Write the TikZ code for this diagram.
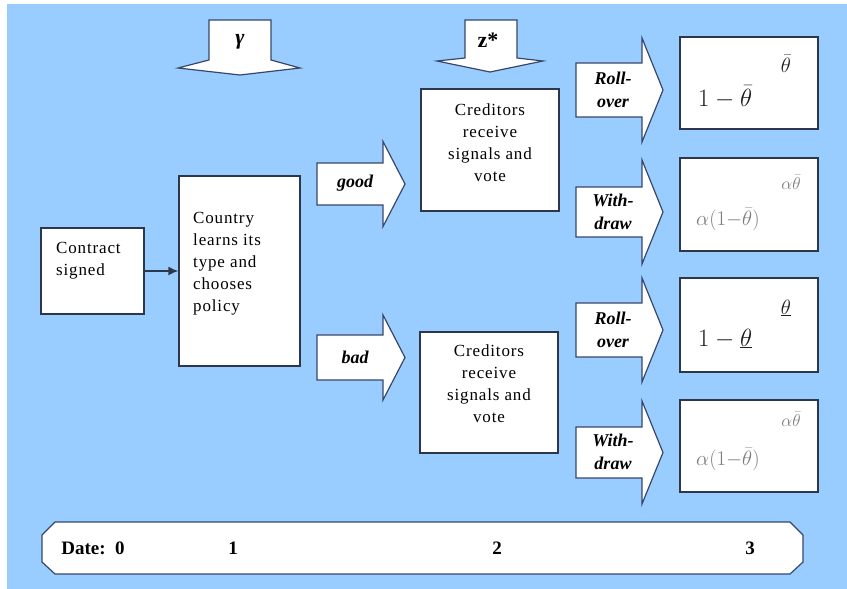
\documentclass[tikz,border=0pt]{standalone}
\usepackage[no-math]{fontspec}
\setmainfont{Liberation Serif}
\newfontfamily\boxfont[LetterSpace=5]{Liberation Serif}
\usetikzlibrary{arrows.meta}

\definecolor{skyback}{RGB}{153,204,255}
\definecolor{boxline}{RGB}{45,55,75}
\definecolor{arrline}{RGB}{55,70,105}
\definecolor{payoffdark}{RGB}{30,30,30}
\definecolor{payoffgray}{RGB}{125,125,125}

% right block arrow: tail x, centre y, shaft half, shaft end x, head half, tip x
\newcommand{\blockright}[6]{%
  \filldraw[blockarrow] (#1,#2-#3) -- (#4,#2-#3) -- (#4,#2-#5) -- (#6,#2)
    -- (#4,#2+#5) -- (#4,#2+#3) -- (#1,#2+#3) -- cycle;}

\begin{document}
\begin{tikzpicture}[x=1pt,y=-1pt]
    \tikzstyle{box}=[draw=boxline, fill=white, line width=1.3pt, inner sep=0pt]
    \tikzstyle{blockarrow}=[draw=arrline, fill=white, line width=1.2pt, line join=miter]
    \tikzstyle{txt}=[font=\boxfont\fontsize{17}{22}\selectfont, inner sep=0pt, align=center]
    \tikzstyle{lbl}=[font=\bfseries\itshape\fontsize{18}{23}\selectfont, inner sep=0pt, align=center]
    \tikzstyle{payoff}=[font=\fontsize{24}{28}\selectfont, text=payoffdark, inner sep=0pt]
    \tikzstyle{payoffsmall}=[font=\fontsize{20}{24}\selectfont, text=payoffdark, inner sep=0pt]
    \tikzstyle{date}=[font=\bfseries\fontsize{19}{22}\selectfont, inner sep=0pt]

    \useasboundingbox (0,0) rectangle (847,589);
    \fill[skyback] (7,4) rectangle (847,589);

    % top arrows
    \filldraw[blockarrow] (209,20) -- (271,20) -- (271,60) -- (300,68) -- (240,75)
        -- (178,68) -- (209,60) -- cycle;
    \node[lbl, font=\bfseries\itshape\fontsize{22}{24}\selectfont] (gamma) at (240,42) {γ};
    \filldraw[blockarrow] (465,20) -- (517,20) -- (517,58) -- (543,61) -- (490,72)
        -- (437,61) -- (465,58) -- cycle;
    \node[lbl, font=\bfseries\fontsize{22}{24}\selectfont] (zstar) at (488,40) {z*};

    % boxes
    \node[box, minimum width=103, minimum height=86] (contract) at (92.5,271) {};
    \node[txt, align=left, anchor=west] at (56,261) {Contract\\signed};
    \node[box, minimum width=121, minimum height=190] (country) at (239.5,271) {};
    \node[txt, align=left, anchor=west] at (193,264) {Country\\learns its\\type and\\chooses\\policy};
    \draw[line width=1.6pt, boxline, -{Latex[length=10pt,width=9pt]}] (contract.east) -- (country.west);

    \node[box, minimum width=138, minimum height=122] (credgood) at (490,150) {};
    \node[txt] at (490,143) {Creditors\\receive\\signals and\\vote};
    \node[box, minimum width=138, minimum height=121] (credbad) at (489,392.5) {};
    \node[txt] at (489,384) {Creditors\\receive\\signals and\\vote};

    % type arrows
    \blockright{317}{184}{21}{383}{42.5}{405}
    \node[lbl] (good) at (355,183) {good};
    \blockright{317}{357.5}{22.5}{383}{42.5}{405}
    \node[lbl] (bad) at (355,357) {bad};

    % vote arrows
    \blockright{576}{90}{27}{642}{52}{663}
    \node[lbl] (rollgood) at (613,90) {Roll-\\over};
    \blockright{576}{212}{25}{642}{52}{663}
    \node[lbl] (drawgood) at (613,212) {With-\\draw};
    \blockright{576}{330}{27}{642}{52}{663}
    \node[lbl] (rollbad) at (613,330) {Roll-\\over};
    \blockright{576}{452.5}{25.5}{642}{51.5}{663}
    \node[lbl] (drawbad) at (613,452) {With-\\draw};

    % payoffs
    \node[box, minimum width=138, minimum height=92] (payA) at (749,83) {};
    \node[payoff, anchor=base west] at (698,106) {$1-\bar\theta$};
    \node[payoffsmall, anchor=base] at (786,72) {$\bar\theta$};
    \node[box, minimum width=138, minimum height=93] (payB) at (749,204.5) {};
    \node[payoff, text=payoffgray, font=\fontsize{21}{24}\selectfont, anchor=base west] at (696,225) {$\alpha(1{-}\bar\theta)$};
    \node[payoffsmall, text=payoffgray, font=\fontsize{16}{20}\selectfont, anchor=base] at (791,189) {$\alpha\bar\theta$};
    \node[box, minimum width=138, minimum height=94] (payC) at (749,325) {};
    \node[payoff, anchor=base west] at (698,346) {$1-\underline{\theta}$};
    \node[payoffsmall, anchor=base] at (786,314) {$\underline{\theta}$};
    \node[box, minimum width=138, minimum height=92] (payD) at (749,446) {};
    \node[payoff, text=payoffgray, font=\fontsize{21}{24}\selectfont, anchor=base west] at (696,465) {$\alpha(1{-}\bar\theta)$};
    \node[payoffsmall, text=payoffgray, font=\fontsize{16}{20}\selectfont, anchor=base] at (791,426) {$\alpha\bar\theta$};

    % time line
    \filldraw[blockarrow] (55,522) -- (790,522) -- (803,535) -- (803,562) -- (790,574)
        -- (55,574) -- (42,562) -- (42,535) -- cycle;
    \node[date] (date0) at (93,548) {Date:\ \ 0};
    \node[date] (date1) at (233,548) {1};
    \node[date] (date2) at (497,548) {2};
    \node[date] (date3) at (750,548) {3};
\end{tikzpicture}
\end{document}
